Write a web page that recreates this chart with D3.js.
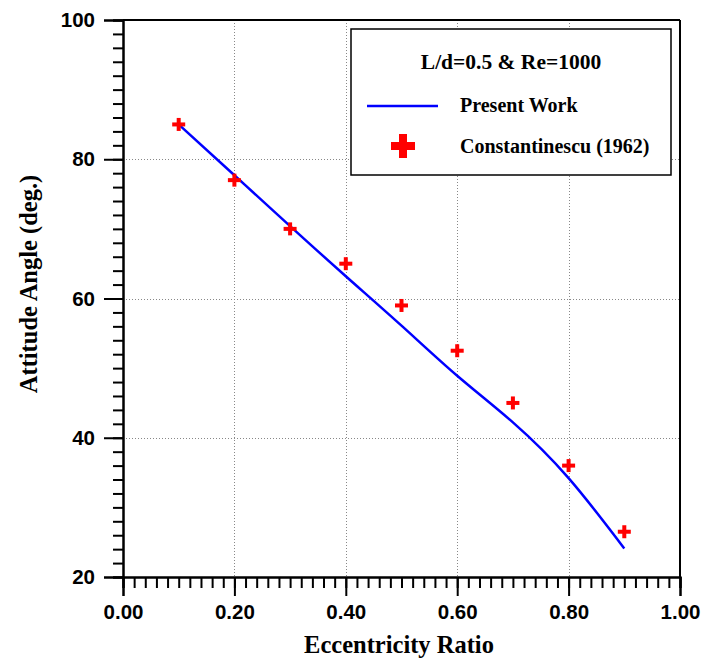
<!DOCTYPE html>
<html>
<head>
<meta charset="utf-8">
<script src="https://cdn.jsdelivr.net/npm/d3@7"></script>
<style>
body { margin: 0; background: #fff; }
svg { display: block; }
.ttl { font-family: "Liberation Serif", "Times New Roman", serif; font-weight: bold; }
</style>
</head>
<body>
<svg id="chart" width="705" height="662"></svg>
<script>
// eccentricity ratios
var eps = [0.1, 0.2, 0.3, 0.4, 0.5, 0.6, 0.7, 0.8, 0.9];
// present work curve (attitude angle, deg.)
var presentWork = [85.0, 77.7, 70.4, 63.2, 56.1, 48.9, 42.2, 34.2, 24.1];
// Constantinescu (1962)
var constantinescu = [85.0, 77.0, 70.0, 65.0, 59.0, 52.5, 45.0, 36.0, 26.5];
var xTicks = [0, 0.2, 0.4, 0.6, 0.8, 1.0];
var yTicks = [20, 40, 60, 80, 100];
var legendTitle = "L/d=0.5 & Re=1000";
var legendNames = ["Present Work", "Constantinescu (1962)"];

var svg = d3.select("#chart");
var pLeft = 123, pRight = 680, pTop = 20, pBottom = 577;

var x = d3.scaleLinear().domain([0, 1]).range([pLeft, pRight]);
var y = d3.scaleLinear().domain([20, 100]).range([pBottom, pTop]);

// grid lines
var grid = svg.append("g").attr("stroke", "#888").attr("stroke-width", 1)
    .attr("stroke-dasharray", "1,2");
grid.selectAll(".gx").data(xTicks.filter(d => d > 0 && d < 1)).enter().append("line")
    .attr("x1", d => Math.round(x(d)) + 0.5).attr("x2", d => Math.round(x(d)) + 0.5)
    .attr("y1", pTop).attr("y2", pBottom);
grid.selectAll(".gy").data(yTicks.filter(d => d > 20 && d < 100)).enter().append("line")
    .attr("y1", d => Math.round(y(d)) + 0.5).attr("y2", d => Math.round(y(d)) + 0.5)
    .attr("x1", pLeft).attr("x2", pRight);

// minor ticks
var xMinor = d3.range(0, 1.0001, 0.02);
var yMinor = d3.range(20, 100.001, 2);

svg.append("g").attr("transform", "translate(0," + pBottom + ")")
    .call(d3.axisBottom(x).tickValues(xMinor).tickSize(11).tickFormat(""));
svg.append("g").attr("transform", "translate(0," + pBottom + ")")
    .call(d3.axisBottom(x).tickValues(xTicks).tickSize(19).tickPadding(8)
          .tickFormat(d3.format(".2f")));
svg.append("g").attr("transform", "translate(" + pLeft + ",0)")
    .call(d3.axisLeft(y).tickValues(yMinor).tickSize(10).tickFormat(""));
svg.append("g").attr("transform", "translate(" + pLeft + ",0)")
    .call(d3.axisLeft(y).tickValues(yTicks).tickSize(19).tickPadding(9));

svg.selectAll(".domain").attr("stroke", "#000").attr("stroke-width", 2);
svg.selectAll(".tick line").attr("stroke", "#000").attr("stroke-width", 2);
svg.selectAll(".tick text").attr("fill", "#000")
    .attr("font-family", "'Liberation Sans', Arial, sans-serif")
    .attr("font-weight", "bold")
    .attr("font-size", "20.5px");

// top and right frame
svg.append("line").attr("x1", pLeft).attr("x2", pRight).attr("y1", pTop).attr("y2", pTop)
    .attr("stroke", "#000").attr("stroke-width", 2);
svg.append("line").attr("x1", pRight).attr("x2", pRight).attr("y1", pTop).attr("y2", pBottom)
    .attr("stroke", "#000").attr("stroke-width", 2);

// present work line
var line = d3.line().x((d, i) => x(eps[i])).y(d => y(d)).curve(d3.curveNatural);
svg.append("path").datum(presentWork)
    .attr("d", line).attr("fill", "none").attr("stroke", "#0000ff").attr("stroke-width", 2.5);

// plus markers
function plus(g, cx, cy, s, w) {
    g.append("rect").attr("x", cx - s / 2).attr("y", cy - w / 2).attr("width", s).attr("height", w).attr("fill", "#ff0000");
    g.append("rect").attr("x", cx - w / 2).attr("y", cy - s / 2).attr("width", w).attr("height", s).attr("fill", "#ff0000");
}
var marks = svg.append("g");
constantinescu.forEach(function (d, i) {
    plus(marks, x(eps[i]), y(d), 13, 4);
});

// legend
var lg = svg.append("g");
lg.append("rect").attr("x", 351).attr("y", 29).attr("width", 320).attr("height", 146)
    .attr("fill", "#fff").attr("stroke", "#000").attr("stroke-width", 1.5);
lg.append("text").attr("class", "ttl").attr("x", 511).attr("y", 69)
    .attr("text-anchor", "middle").attr("font-size", "21.5px").text(legendTitle);
lg.append("line").attr("x1", 367).attr("x2", 438).attr("y1", 106).attr("y2", 106)
    .attr("stroke", "#0000ff").attr("stroke-width", 2.5);
lg.append("text").attr("class", "ttl").attr("x", 460).attr("y", 112)
    .attr("font-size", "20px").text(legendNames[0]);
plus(lg, 403, 146, 24, 8);
lg.append("text").attr("class", "ttl").attr("x", 460).attr("y", 153)
    .attr("font-size", "20px").text(legendNames[1]);

// axis titles
svg.append("text").attr("class", "ttl").attr("x", 399).attr("y", 653)
    .attr("text-anchor", "middle").attr("font-size", "24.5px").text("Eccentricity Ratio");
svg.append("text").attr("class", "ttl")
    .attr("transform", "translate(37,284) rotate(-90)")
    .attr("text-anchor", "middle").attr("font-size", "24.5px").text("Attitude Angle (deg.)");
</script>
</body>
</html>
